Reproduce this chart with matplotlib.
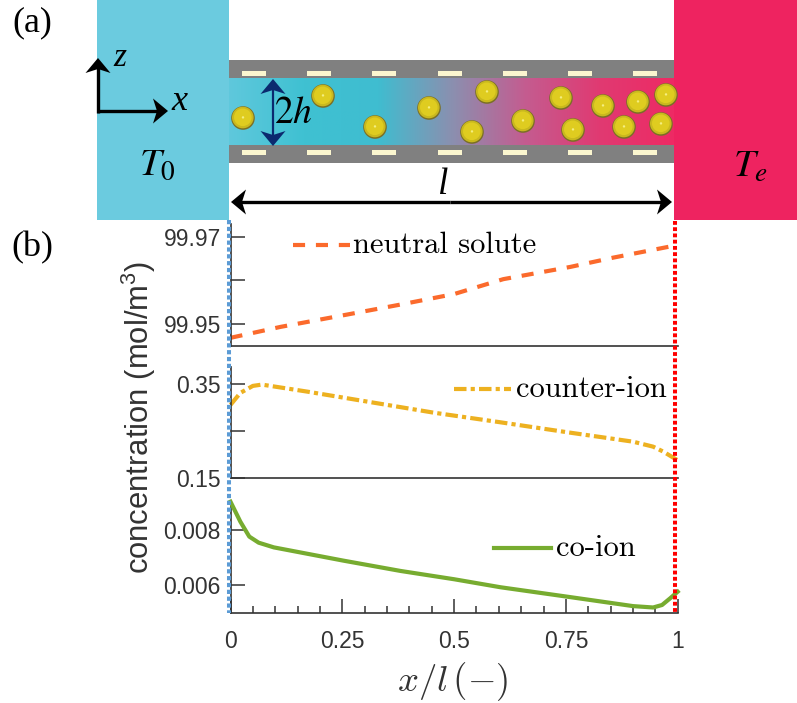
import numpy as np
import matplotlib
matplotlib.use("Agg")
import matplotlib.pyplot as plt
from matplotlib.colors import LinearSegmentedColormap
from matplotlib.patches import Rectangle, Circle, Polygon

W, H = 797, 703

# curves
x_neutral = [0, 0.112, 0.26, 0.375, 0.5, 0.61, 0.76, 0.855, 0.96, 1]
y_neutral = [99.9469, 99.9494, 99.9522, 99.9544, 99.9569, 99.9603, 99.9631, 99.9652, 99.9673, 99.9681]

x_counter = [0, 0.022, 0.05, 0.07, 0.171, 0.364, 0.454, 0.603, 0.753, 0.90, 0.945, 0.968, 0.995, 1]
y_counter = [0.3052, 0.3308, 0.3457, 0.3485, 0.3336, 0.3030, 0.2887, 0.2682, 0.2469, 0.2268, 0.2162, 0.2055, 0.1899, 0.187]

x_co = [0, 0.022, 0.042, 0.063, 0.097, 0.253, 0.38, 0.5, 0.604, 0.753, 0.9, 0.945, 0.965, 0.983, 1]
y_co = [0.00902, 0.0083, 0.00776, 0.00754, 0.00737, 0.00689, 0.00652, 0.00622, 0.00593, 0.00559, 0.00525, 0.0052, 0.00529, 0.00553, 0.00577]

# schematic: particle centres and wall marks, in pixels of the picture
ball_x = [243, 323, 375, 429, 487, 472, 523, 561, 573, 603, 624, 638, 666, 661]
ball_y = [118, 96, 127, 108, 92, 132, 121, 98, 130, 106, 127, 102, 95, 124]
mark_x = [242, 307, 372, 438, 503, 568, 633]

C_NEUTRAL = "#fb6a2c"
C_COUNTER = "#edb120"
C_CO = "#77ac30"
C_AXIS = "#333333"
SANS = "Liberation Sans"
SERIF = "Liberation Serif"

plt.rcParams["font.family"] = SANS
plt.rcParams["mathtext.fontset"] = "cm"

fig = plt.figure(figsize=(W / 100, H / 100), dpi=100)


def panel(top, bottom, left=230.5, right=677.7):
    ax = fig.add_axes([left / W, 1 - bottom / H, (right - left) / W, (bottom - top) / H])
    ax.patch.set_alpha(0)
    for s in ["top", "right"]:
        ax.spines[s].set_visible(False)
    for s in ["left", "bottom"]:
        ax.spines[s].set_linewidth(1.2)
        ax.spines[s].set_color(C_AXIS)
    ax.set_xlim(0, 1)
    ax.set_xticks([])
    ax.tick_params(axis="y", direction="in", length=10, width=1.1, color=C_AXIS,
                   labelsize=16.5, labelcolor=C_AXIS, pad=7)
    return ax


# (b) three stacked panels
ax1 = panel(224, 345.7)
ax1.plot(x_neutral, y_neutral, color=C_NEUTRAL, lw=3, ls=(0, (2.9, 2.6)), clip_on=False)
ax1.set_ylim(99.9451, 99.9729)
ax1.set_yticks([99.95, 99.96, 99.97])
ax1.set_yticklabels(["99.95", "", "99.97"])

ax2 = panel(367, 477.7)
ax2.plot(x_counter, y_counter, color=C_COUNTER, lw=3, ls=(0, (3, 1, 1, 1)), clip_on=False)
ax2.set_ylim(0.15, 0.386)
ax2.set_yticks([0.15, 0.25, 0.35])
ax2.set_yticklabels(["0.15", "", "0.35"])

ax3 = panel(501.7, 613.3)
ax3.plot(x_co, y_co, color=C_CO, lw=3, clip_on=False, zorder=6)
ax3.set_ylim(0.00499, 0.00902)
ax3.set_yticks([0.006, 0.008])
ax3.set_yticklabels(["0.006", "0.008"])
ax3.set_xticks([0, 0.25, 0.5, 0.75, 1])
ax3.set_xticklabels(["0", "0.25", "0.5", "0.75", "1"])
ax3.set_xticks(np.arange(0, 1.01, 0.05), minor=True)
ax3.tick_params(axis="x", which="major", direction="in", length=10, width=1.1, color=C_AXIS,
                labelsize=16.5, labelcolor=C_AXIS, pad=12)
ax3.tick_params(axis="x", which="minor", direction="in", length=5, width=1.1, color=C_AXIS)

# everything else is drawn in picture pixels
ov = fig.add_axes([0, 0, 1, 1], zorder=5)
ov.axis("off")
ov.patch.set_alpha(0)

# reservoirs and channel
ov.add_patch(Rectangle((97, 0), 132, 220, color="#6bcbdf", lw=0))
ov.add_patch(Rectangle((674, 0), 123, 220, color="#ee2360", lw=0))
grad = LinearSegmentedColormap.from_list(
    "channel", ["#5fc8dc", "#3fc1d2", "#3fbdd0", "#8a90b0", "#c45c90", "#e03a72", "#ee2a64"])
ov.imshow(np.linspace(0, 1, 256)[None, :], cmap=grad, extent=(229, 674, 145, 78), aspect="auto", zorder=1)
ov.set_xlim(0, W)
ov.set_ylim(H, 0)
ov.add_patch(Rectangle((229, 60), 445, 18, color="#808080", lw=0, zorder=2))
ov.add_patch(Rectangle((229, 145), 445, 18, color="#808080", lw=0, zorder=2))
for mx in mark_x:
    ov.add_patch(Rectangle((mx, 71), 24, 4.5, color="#fbf6cf", lw=0, zorder=3))
    ov.add_patch(Rectangle((mx, 150), 24, 4.5, color="#fbf6cf", lw=0, zorder=3))

for bx, by in zip(ball_x, ball_y):
    ov.add_patch(Circle((bx, by), 11.8, color="#7a6f26", lw=0, zorder=4))
    ov.add_patch(Circle((bx - 0.2, by - 0.5), 10.8, color="#c9b81e", lw=0, zorder=4))
    ov.add_patch(Circle((bx - 0.2, by - 0.7), 8.8, color="#dfcc20", lw=0, zorder=4))
    ov.add_patch(Circle((bx, by - 0.6), 1.2, color="#f4ee80", lw=0, zorder=4))


# arrows with swept-back heads
def arrow(x0, y0, x1, y1, color="black", lw=2.4):
    d = np.array([x1 - x0, y1 - y0], float)
    d /= np.hypot(*d)
    n = np.array([-d[1], d[0]])
    tip = np.array([x1, y1], float)
    ov.plot([x0, x1 - 8 * d[0]], [y0, y1 - 8 * d[1]], color=color, lw=lw, solid_capstyle="butt", zorder=5)
    ov.add_patch(Polygon([tip, tip - 15 * d + 12.5 * n, tip - 11 * d, tip - 15 * d - 12.5 * n],
                         closed=True, color=color, lw=0, zorder=5))


arrow(98, 112.5, 98, 58)
arrow(97, 111, 168, 111)
arrow(450, 202, 231, 202)
arrow(450, 202, 672, 202)
arrow(273, 112, 273, 79, color="#0b2a6f", lw=1.6)
arrow(273, 112, 273, 146, color="#0b2a6f", lw=1.6)

# boundary lines of the reservoirs
ov.plot([228.7, 228.7], [220, 613], color="#5b9bd5", lw=2.9, ls=(0, (1.05, 0.65)), zorder=4)
ov.plot([675, 675], [221, 613], color="#ff0000", lw=2.9, ls=(0, (0.95, 0.6)), zorder=4)


# labels
def serif(x, y, s, size, style="normal"):
    ov.text(x, y, s, fontsize=size, family=SERIF, style=style, ha="center", va="center", zorder=6)


def symbol(x, y, s, size):
    ov.text(x, y, s, fontsize=size, math_fontfamily="stix", ha="center", va="center", zorder=6)


serif(32, 23, "(a)", 26)
serif(32, 248, "(b)", 26)
serif(120, 58, "z", 24, "italic")
serif(179, 101, "x", 26, "italic")
symbol(157, 165, r"$T_0$", 28)
symbol(750, 167, r"$T_e$", 28)
symbol(293, 113, r"$2h$", 27)
serif(443, 185, "l", 27, "italic")

# legend entries
ov.plot([293, 350], [245, 245], color=C_NEUTRAL, lw=3, ls=(0, (2.9, 2.6)), zorder=5)
ov.plot([454, 511], [389, 389], color=C_COUNTER, lw=3, ls=(0, (3, 1, 1, 1)), zorder=5)
ov.plot([494, 551], [548, 548], color=C_CO, lw=3, zorder=5)
for tx, ty, s in [(353, 245, "neutral solute"), (516, 389, "counter-ion"), (556, 548, "co-ion")]:
    ov.text(tx, ty, s, fontsize=22, family="cmr10", ha="left", va="center", zorder=6)

ov.text(139, 417, "concentration (mol/m$\\mathregular{^3}$)", rotation=90, fontsize=22.3,
        color=C_AXIS, ha="center", va="center", zorder=6)
ov.text(453, 682, r"$x/l\,(-)$", fontsize=26.5, color=C_AXIS, ha="center", va="center", zorder=6)

fig.savefig("out.png", dpi=100)
